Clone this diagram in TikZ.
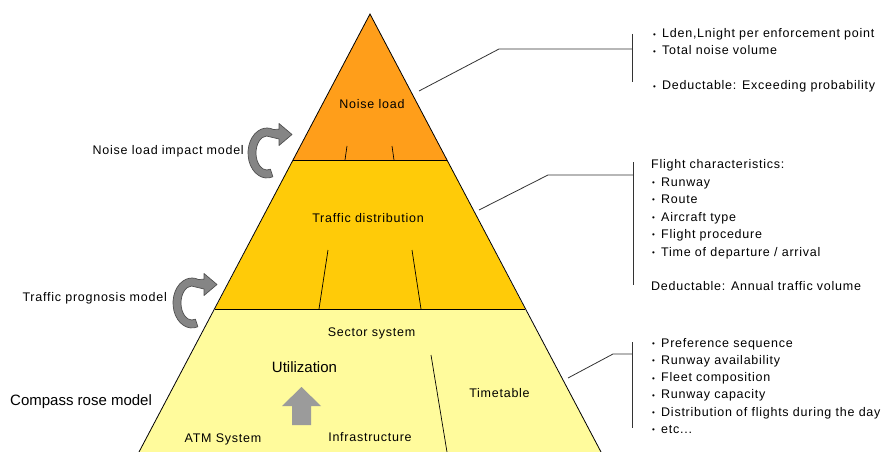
\documentclass[tikz,border=0pt]{standalone}
\usepackage{fontspec}
\setmainfont{Liberation Sans}
\newfontfamily\trfont[LetterSpace=6]{Liberation Sans}
\definecolor{noisec}{HTML}{FF9E1A}
\definecolor{trafc}{HTML}{FFCB08}
\definecolor{basec}{HTML}{FFFB9C}
\definecolor{arrfill}{HTML}{858585}
\definecolor{arrline}{HTML}{505050}
\definecolor{uparr}{HTML}{9B9B9B}
\newcommand{\trk}{\fontsize{12.5}{14}\selectfont\trfont}
\newcommand{\bigt}{\fontsize{15}{17}\selectfont}
\newcommand{\bul}{\makebox[9pt][l]{\raisebox{0.6pt}{\fontsize{8}{8}\selectfont\textbullet}}}
\tikzset{
  lbl/.style={font=\trk, text=black, inner sep=0pt},
  biglbl/.style={font=\bigt, text=black, inner sep=0pt},
  edge/.style={draw=black, line width=0.8pt},
  callout/.style={draw=black!80, line width=0.8pt},
  curvarr/.style={fill=arrfill, draw=arrline, line width=0.7pt, line join=round},
}
\newcommand{\turnarrow}[2]{%
  \begin{scope}[shift={(#1,#2)}]
    \filldraw[curvarr] (72:19 and 25) arc[start angle=72, end angle=290, x radius=19, y radius=25]
      -- (12,-23.8) -- (12,-29.5) -- (25,-18.5) -- (12,-7.5) -- (12,-14)
      -- (290:11 and 17) arc[start angle=290, end angle=72, x radius=11, y radius=17] -- cycle;
  \end{scope}}
\begin{document}
\begin{tikzpicture}[x=1pt,y=-1pt]
\useasboundingbox (0,0) rectangle (887,452);
\fill[white] (0,0) rectangle (887,452);
% pyramid corners
\coordinate (apex) at (370,14);
\coordinate (nl) at (293,160);
\coordinate (nr) at (447,160);
\coordinate (tl) at (215,309);
\coordinate (tr) at (525,309);
\coordinate (bl) at (139,452);
\coordinate (br) at (601,452);
% fills
\fill[basec] (tl) -- (tr) -- (br) -- (bl) -- cycle;
\fill[trafc] (nl) -- (nr) -- (tr) -- (tl) -- cycle;
\fill[noisec] (apex) -- (nr) -- (nl) -- cycle;
% outlines
\draw[edge] (bl) -- (apex) -- (br);
\draw[edge] (nl) -- (nr);
\draw[edge] (tl) -- (tr);
% inner division lines
\draw[edge, line width=0.7pt] (347,146) -- (345,160);
\draw[edge, line width=0.7pt] (392,146) -- (394,160);
\draw[edge, line width=0.7pt] (328,250) -- (319,309);
\draw[edge, line width=0.7pt] (412,250) -- (421,309);
\draw[edge, line width=0.7pt] (431,355) -- (447,452);
% pyramid labels
\node[lbl, anchor=base] (noise) at (372,109) {Noise load};
\node[lbl, anchor=base] (traffic) at (368,222) {Traffic distribution};
\node[lbl, anchor=base] (sector) at (371.5,336) {Sector system};
\node[biglbl, anchor=base] (util) at (304.5,372) {Utilization};
\node[lbl, anchor=base] (timet) at (499.5,397) {Timetable};
\node[lbl, anchor=base] (atm) at (223,442) {ATM System};
\node[lbl, anchor=base] (infra) at (370,441) {Infrastructure};
% up arrow
\fill[uparr] (292,425) -- (292,406) -- (282,406) -- (301.5,387) -- (321,406) -- (311,406) -- (311,425) -- cycle;
% left labels
\node[lbl, anchor=base east] (nlim) at (244,154) {Noise load impact model};
\node[lbl, anchor=base east] (tpm) at (167,301) {Traffic prognosis model};
\node[biglbl, anchor=base west] (crm) at (10,405) {Compass rose model};
% curved arrows
\turnarrow{267}{153}
\turnarrow{192}{303}
% callouts
\coordinate (c1a) at (419,91);
\coordinate (c1b) at (499,49);
\coordinate (c1c) at (632,49);
\draw[callout] (c1a) -- (c1b) -- (c1c);
\draw[callout] (632,34) -- (632,82);
\coordinate (c2a) at (479,210);
\coordinate (c2b) at (548,175);
\coordinate (c2c) at (633,175);
\draw[callout] (c2a) -- (c2b) -- (c2c);
\draw[callout] (633,162) -- (633,285);
\coordinate (c3a) at (568,378);
\coordinate (c3b) at (613,354);
\coordinate (c3c) at (632,354);
\draw[callout] (c3a) -- (c3b) -- (c3c);
\draw[callout] (632,342) -- (632,428);
% right block 1
\node[lbl, anchor=base west] (r11) at (653,38) {\bul Lden,Lnight per enforcement point};
\node[lbl, anchor=base west] (r12) at (653,55) {\bul Total noise volume};
\node[lbl, anchor=base west] (r13) at (653,90) {\bul Deductable: Exceeding probability};
% right block 2
\node[lbl, anchor=base west] (r20) at (651,168) {Flight characteristics:};
\node[lbl, anchor=base west] (r21) at (652,186) {\bul Runway};
\node[lbl, anchor=base west] (r22) at (652,203.5) {\bul Route};
\node[lbl, anchor=base west] (r23) at (652,221) {\bul Aircraft type};
\node[lbl, anchor=base west] (r24) at (652,238.5) {\bul Flight procedure};
\node[lbl, anchor=base west] (r25) at (652,256) {\bul Time of departure / arrival};
\node[lbl, anchor=base west] (r26) at (651,290) {Deductable: Annual traffic volume};
% right block 3
\node[lbl, anchor=base west] (r31) at (652,347) {\bul Preference sequence};
\node[lbl, anchor=base west] (r32) at (652,364.3) {\bul Runway availability};
\node[lbl, anchor=base west] (r33) at (652,381.6) {\bul Fleet composition};
\node[lbl, anchor=base west] (r34) at (652,398.9) {\bul Runway capacity};
\node[lbl, anchor=base west] (r35) at (652,416.2) {\bul Distribution of flights during the day};
\node[lbl, anchor=base west] (r36) at (652,433.5) {\bul etc...};
\end{tikzpicture}
\end{document}
